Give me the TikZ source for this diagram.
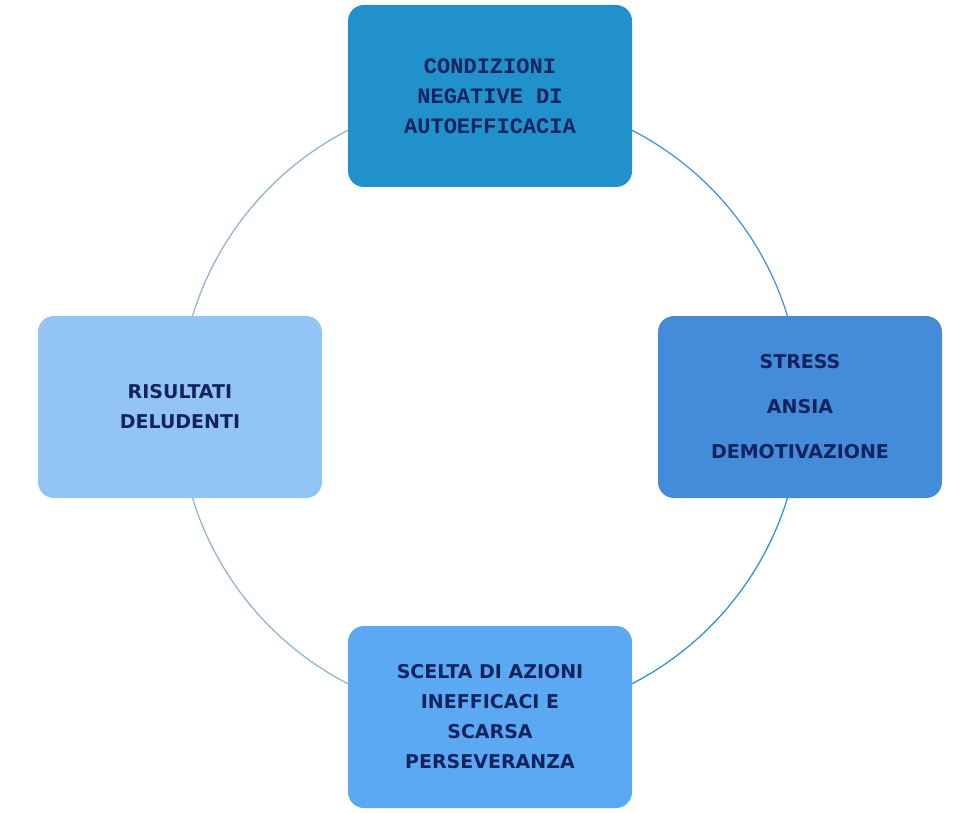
\documentclass[tikz,border=0pt]{standalone}
\usepackage{fontspec}
\setmainfont{DejaVu Sans}
\newfontfamily\monof{Liberation Mono}
\begin{document}
\begin{tikzpicture}[x=1pt,y=-1pt,
  box/.style={rounded corners=16pt,minimum width=284pt,minimum height=182pt,align=center,text=navy,font=\bfseries\fontsize{19}{30}\selectfont,inner sep=4pt},
  ring/.style={line width=1.2pt}]
\definecolor{navy}{HTML}{13235F}
\definecolor{ctop}{HTML}{2191CB}
\definecolor{cright}{HTML}{448BD9}
\definecolor{cbot}{HTML}{5AA9F2}
\definecolor{cleft}{HTML}{92C5F6}
\useasboundingbox (0,0) rectangle (980,813);
\coordinate (c) at (490,407);
\draw[ring,draw=ctop] (c) ++(90:311) arc[start angle=90,end angle=0,radius=311];
\draw[ring,draw=cright] (c) ++(0:311) arc[start angle=0,end angle=-90,radius=311];
\draw[ring,draw=cleft!70!gray] (c) ++(-90:311) arc[start angle=-90,end angle=-180,radius=311];
\draw[ring,draw=cleft!70!gray] (c) ++(180:311) arc[start angle=180,end angle=90,radius=311];
\node[box,fill=ctop,font=\monof\bfseries\fontsize{22}{30}\selectfont] (t) at (490,96) {CONDIZIONI\\NEGATIVE DI\\AUTOEFFICACIA};
\node[box,fill=cright,font=\bfseries\fontsize{19}{45}\selectfont] (r) at (800,407) {STRESS\\ANSIA\\DEMOTIVAZIONE};
\node[box,fill=cbot] (b) at (490,717) {SCELTA DI AZIONI\\INEFFICACI E\\SCARSA\\PERSEVERANZA};
\node[box,fill=cleft] (l) at (180,407) {RISULTATI\\DELUDENTI};
\end{tikzpicture}
\end{document}
